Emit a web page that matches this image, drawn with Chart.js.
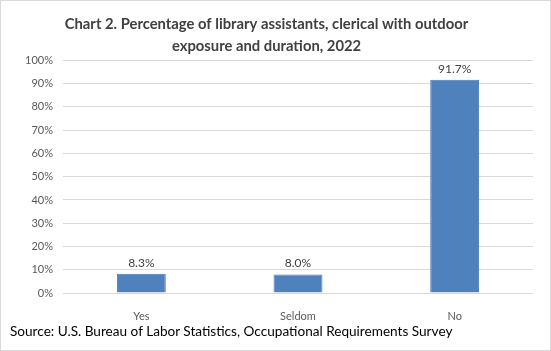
<!DOCTYPE html>
<html>
<head>
<meta charset="utf-8">
<script src="https://cdn.jsdelivr.net/npm/chart.js@4"></script>
<style>
  html, body { margin: 0; padding: 0; background: #fff; }
  #wrap { position: relative; width: 551px; height: 351px; box-sizing: border-box; border: 1px solid #d9d9d9; }
  #chart { position: absolute; left: -1px; top: -1px; }
  #source { position: absolute; left: 9px; top: 322px; font: 13.6px Lato, sans-serif; color: #000; white-space: nowrap; }
</style>
</head>
<body>
<div id="wrap">
  <canvas id="chart" width="551" height="351"></canvas>
  <div id="source">Source: U.S. Bureau of Labor Statistics, Occupational Requirements Survey</div>
</div>
<script>
const titleLines = ['Chart 2. Percentage of library assistants, clerical with outdoor', 'exposure and duration, 2022'];
const categories = ['Yes', 'Seldom', 'No'];
const values = [8.3, 8.0, 91.7];
const yTicks = [0, 10, 20, 30, 40, 50, 60, 70, 80, 90, 100];

// value labels above each bar
const barLabels = {
    id: 'barLabels',
    afterDatasetsDraw(chart) {
        const ctx = chart.ctx;
        const meta = chart.getDatasetMeta(0);
        ctx.save();
        ctx.font = '12px Lato, sans-serif';
        ctx.fillStyle = '#404040';
        ctx.textAlign = 'center';
        ctx.textBaseline = 'bottom';
        meta.data.forEach((bar, i) => {
            ctx.fillText(values[i].toFixed(1) + '%', bar.x, bar.y - 5);
        });
        ctx.restore();
    }
};

new Chart(document.getElementById('chart'), {
    type: 'bar',
    data: {
        labels: categories,
        datasets: [{
            data: values,
            backgroundColor: '#4f81bd',
            borderColor: '#4a7ab4',
            borderWidth: 1,
            barPercentage: 0.52,
            categoryPercentage: 0.6
        }]
    },
    options: {
        responsive: false,
        animation: false,
        layout: { padding: { left: 0, right: 18, top: 0, bottom: 0 } },
        plugins: {
            legend: { display: false },
            tooltip: { enabled: false },
            title: {
                display: true,
                text: titleLines,
                color: '#404040',
                font: { family: 'Lato', size: 14.8, weight: 'bold', lineHeight: 1.5 },
                padding: { top: 13, bottom: 3 }
            }
        },
        scales: {
            x: {
                afterFit(scale) { scale.height = 58; },
                grid: { display: false },
                border: { display: false },
                ticks: { color: '#595959', font: { family: 'Lato', size: 11 }, padding: 9 }
            },
            y: {
                min: 0,
                max: 100,
                afterFit(scale) { scale.width = 63; },
                afterBuildTicks(scale) { scale.ticks = yTicks.map(v => ({ value: v })); },
                grid: { color: '#d9d9d9', drawTicks: false },
                border: { display: false },
                ticks: {
                    color: '#595959',
                    font: { family: 'Lato', size: 11 },
                    padding: 10,
                    callback: v => v + '%'
                }
            }
        }
    },
    plugins: [barLabels]
});
</script>
</body>
</html>
